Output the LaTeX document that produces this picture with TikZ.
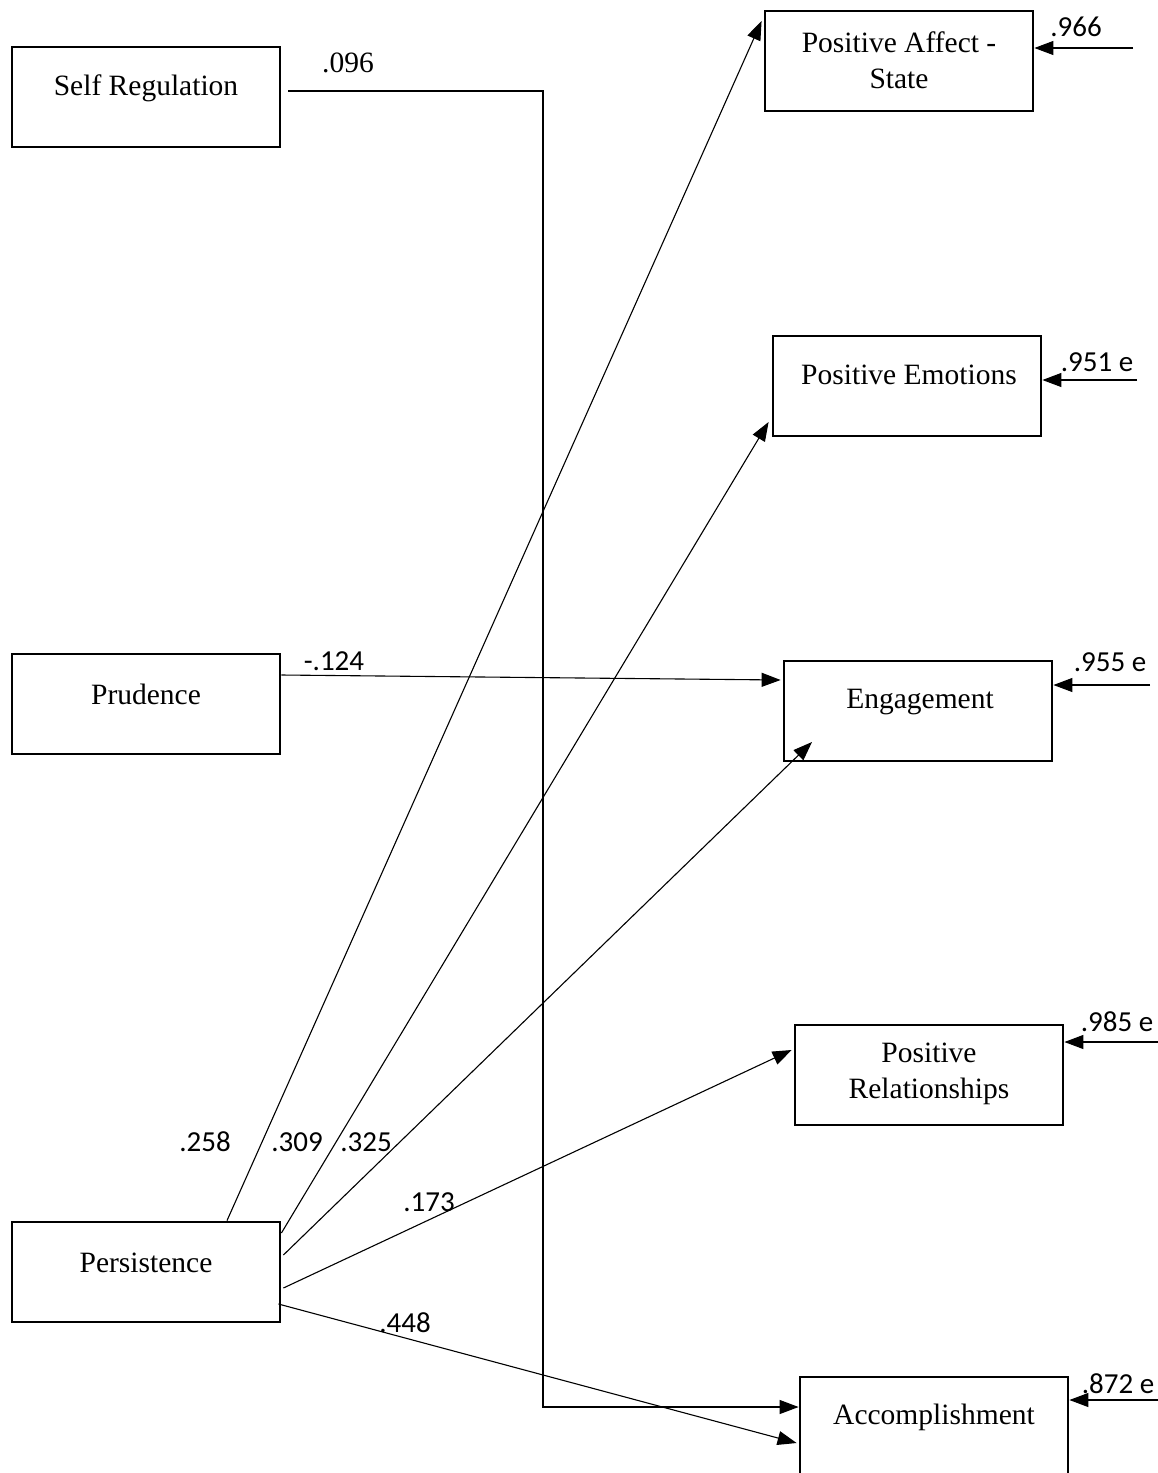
\documentclass[tikz,border=0pt]{standalone}
\usepackage{fontspec}
\setmainfont{Liberation Serif}
\newfontfamily\calibri{Carlito}
\usepackage{tikz}
\usetikzlibrary{arrows}
\usetikzlibrary{arrows.meta}
\usetikzlibrary{calc}
\usetikzlibrary{positioning}

\begin{document}
\begin{tikzpicture}[x=1pt, y=-1pt,
  box/.style={draw, rectangle, line width=2.8pt, minimum width=268pt, minimum height=100pt, inner sep=0pt},
  boxtext/.style={font=\fontsize{29.5}{36}\selectfont, align=center, inner sep=0pt},
  coef/.style={font=\calibri\fontsize{29}{34}\selectfont, inner sep=0pt},
  path/.style={line width=1.1pt, -{Triangle[length=19pt,width=14pt]}}]
\useasboundingbox (0,0) rectangle (1158,1473);

% Predictors (nodes)
\node[box] (selfreg) at (146,97) {};
\node[boxtext] (selfregtext) at (146,88) {Self Regulation};
\node[box] (prud) at (146,704) {};
\node[boxtext] (prudtext) at (146,694) {Prudence};
\node[box] (pers) at (146,1272) {};
\node[boxtext] (perstext) at (146,1263) {Persistence};

% Outcomes (nodes)
\node[box] (pas) at (899,61) {};
\node[boxtext] (pastext) at (899,60) {Positive Affect -\\State};
\node[box] (pe) at (907,386) {};
\node[boxtext] (petext) at (909,375) {Positive Emotions};
\node[box] (eng) at (918,711) {};
\node[boxtext] (engtext) at (920,702) {Engagement};
\node[box] (pr) at (929,1075) {};
\node[boxtext] (prtext) at (929,1074) {Positive\\Relationships};
\node[box] (acc) at (934,1427) {};
\node[boxtext] (acctext) at (934,1417) {Accomplishment};

% Paths
\coordinate (bend) at (543,1407);
\draw[path] ([xshift=7pt,yshift=6pt]selfreg.east) -| (bend) -- (bend -| acc.west);
\draw[path] ([yshift=29pt]prud.east) -- ([xshift=-2pt,yshift=31pt]eng.west);
\draw[path] ([xshift=81pt]pers.north) -- ([xshift=-2pt,yshift=40pt]pas.west);
\draw[path] ([yshift=39pt]pers.east) -- ([xshift=-3pt,yshift=-36pt]pe.west);
\draw[path] ([xshift=2pt,yshift=17pt]pers.east) -- ([shift={(-106pt,-31pt)}]eng.center);
\draw[path] ([xshift=2pt,yshift=-16pt]pers.east) -- ([xshift=-2pt,yshift=25pt]pr.west);
\draw[path] ([xshift=-3pt,yshift=-32pt]pers.east) -- ([xshift=-2pt,yshift=-16pt]acc.west);

% Error terms
\coordinate (epas) at (1133,48);
\coordinate (epe) at (1137,380);
\coordinate (eeng) at (1150,685);
\coordinate (epr) at (1158,1042);
\coordinate (eacc) at (1158,1400);
\draw[path] (epas) -- (epas -| pas.east);
\draw[path] (epe) -- (epe -| pe.east);
\draw[path] (eeng) -- (eeng -| eng.east);
\draw[path] (epr) -- (epr -| pr.east);
\draw[path] (eacc) -- (eacc -| acc.east);

% Coefficients
\node[boxtext] (c096) at (348,63) {.096};
\node[coef] (c124) at (334,661) {-.124};
\node[coef] (c258) at (205,1142) {.258};
\node[coef] (c309) at (297,1142) {.309};
\node[coef] (c325) at (366,1142) {.325};
\node[coef] (c173) at (429,1202) {.173};
\node[coef] (c448) at (405,1323) {.448};
\node[coef] (c966) at (1076,27) {.966};
\node[coef] (c951) at (1097,362) {.951 e};
\node[coef] (c955) at (1110,662) {.955 e};
\node[coef] (c985) at (1117,1022) {.985 e};
\node[coef] (c872) at (1118,1384) {.872 e};
\end{tikzpicture}
\end{document}
